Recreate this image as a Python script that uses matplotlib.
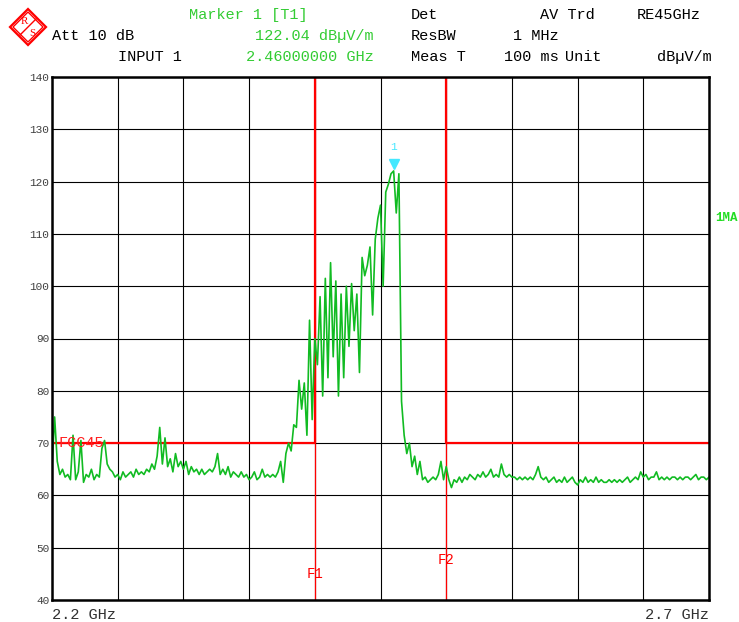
import matplotlib
matplotlib.use("Agg")
import matplotlib.pyplot as plt
import numpy as np
from matplotlib.patches import Polygon
from matplotlib.lines import Line2D

# sweep 2.2 .. 2.7 GHz, 2 MHz per point, level in dBuV/m
level_dbuv = [
    65.5, 75, 66.5, 64, 65, 63.5, 64, 63, 71.5, 63,
    64.5, 70.5, 62.5, 64, 63.5, 65, 63, 64, 63.5, 69,
    70.5, 66, 65, 64.5, 63.5, 64, 63, 64.5, 63.5, 64,
    64.5, 63.5, 65, 64, 64.5, 64, 65, 64.5, 66, 65,
    67.5, 73, 66, 71, 65.5, 67, 64.5, 68, 65.5, 66.5,
    65, 66.5, 64, 65.5, 64.5, 65, 64, 65, 64, 64.5,
    65, 64.5, 65.5, 68, 64, 65, 64, 65.5, 63.5, 64.5,
    64, 63.5, 64.5, 63.5, 64, 63, 63.5, 64.5, 63, 63.5,
    65, 63.5, 64, 63.5, 64, 63.5, 64.5, 66.5, 62.5, 68,
    70, 68.5, 73.5, 73, 82, 76.5, 81.5, 71.5, 93.5, 74.5,
    90, 85, 98, 79, 101.5, 82.5, 104.5, 86.5, 101, 79,
    98.5, 82.5, 100, 88.5, 100.5, 91.5, 98.5, 83.5, 105.5, 102,
    104, 107.5, 94.5, 109, 113, 115.5, 100, 118, 119.5, 121.5,
    122.04, 114, 121.5, 78, 71.5, 68, 70, 65.5, 67.5, 64,
    66.5, 63, 63.5, 62.5, 63, 63.5, 63, 64, 66.5, 63,
    65.5, 63, 61.5, 63, 62.5, 63.5, 62.5, 63.5, 63, 64,
    63.5, 63, 64, 63.5, 64.5, 63.5, 64, 65, 63.5, 64,
    63.5, 66, 64, 63.5, 64, 63.5, 63.5, 63, 63.5, 63,
    63.5, 63, 63.5, 63, 64, 65.5, 63.5, 63, 63.5, 62.5,
    63, 63.5, 62.5, 63, 62.5, 63.5, 62.5, 63, 63.5, 62.5,
    62, 63, 62.5, 63.5, 62.5, 63, 62.5, 63.5, 62.5, 63,
    62.5, 62.5, 63, 62.5, 63, 62.5, 63, 62.5, 63, 63.5,
    62.5, 63, 63.5, 63, 64.5, 63.5, 64, 63, 63.5, 63.5,
    64.5, 63, 63.5, 63, 63.5, 63, 63.5, 63.5, 63, 63.5,
    63, 63.5, 63.5, 63, 63.5, 64, 63, 63.5, 63.5, 63,
    63.5,
]
f_start, f_stop = 2.2, 2.7
freq_ghz = np.linspace(f_start, f_stop, len(level_dbuv))

# FCC limit line and band edges
limit_f = [2.2, 2.4, 2.4, 2.5, 2.5, 2.7]
limit_db = [70, 70, 140, 140, 70, 70]
f1_ghz, f2_ghz = 2.4, 2.5
marker_f, marker_db = 2.46, 122.04

W, H = 739, 622
MONO = "Liberation Mono"
GREEN_TXT = "#33cc33"
RED = "#ff0000"


def fx(px):
    return px / W


def fy(py):
    return 1 - py / H


fig = plt.figure(figsize=(W / 100, H / 100), dpi=100)
ax = fig.add_axes([fx(52), 22 / H, 657 / W, 523 / H])

ax.set_xlim(f_start, f_stop)
ax.set_ylim(40, 140)
ax.set_xticks(np.linspace(f_start, f_stop, 11))
ax.set_yticks(range(40, 141, 10))
ax.set_yticklabels([str(v) for v in range(40, 141, 10)], family=MONO, fontsize=8, color="#404040")
ax.tick_params(length=0, labelbottom=False, pad=2)
ax.grid(color="black", lw=0.8)
for s in ax.spines.values():
    s.set_linewidth(1.8)
    s.set_zorder(5)

ax.plot(limit_f, limit_db, color=RED, lw=1.6, zorder=3)
ax.vlines([f1_ghz, f2_ghz], 40, 140, color=RED, lw=0.9, zorder=3)
ax.plot(freq_ghz, level_dbuv, color="#11bb22", lw=1.2, zorder=4)

ax.plot(marker_f, 123.4, marker="v", color="#44e8ff", markersize=7, zorder=6)
ax.text(marker_f, 125.6, "1", color="#44e8ff", fontsize=8, family=MONO, ha="center", va="bottom")

ax.text(2.205, 70, "FCC45", color="#ff2020", fontsize=11, family=MONO, va="center", zorder=6)
ax.text(f1_ghz, 45, "F1", color=RED, fontsize=10, family=MONO, ha="center", va="center")
ax.text(f2_ghz, 47.6, "F2", color=RED, fontsize=10, family=MONO, ha="center", va="center")

# header
hdr = [
    (189, 15, "Marker 1 [T1]", GREEN_TXT, "left"),
    (411, 15, "Det", "black", "left"),
    (540, 15, "AV Trd", "black", "left"),
    (637, 15, "RE45GHz", "black", "left"),
    (52, 36, "Att 10 dB", "black", "left"),
    (374, 36, "122.04 dB\u00b5V/m", GREEN_TXT, "right"),
    (411, 36, "ResBW", "black", "left"),
    (513, 36, "1 MHz", "black", "left"),
    (118, 57, "INPUT 1", "black", "left"),
    (374, 57, "2.46000000 GHz", GREEN_TXT, "right"),
    (411, 57, "Meas T", "black", "left"),
    (504, 57, "100 ms", "black", "left"),
    (565, 57, "Unit", "black", "left"),
    (712, 57, "dB\u00b5V/m", "black", "right"),
]
for px, py, s, c, ha in hdr:
    fig.text(fx(px), fy(py), s, color=c, ha=ha, va="center", family=MONO, fontsize=11)

fig.text(fx(52), fy(615), "2.2 GHz", ha="left", va="center", family=MONO, fontsize=11, color="#303030")
fig.text(fx(709), fy(615), "2.7 GHz", ha="right", va="center", family=MONO, fontsize=11, color="#303030")
fig.text(fx(715), fy(218), "1MA", ha="left", va="center", family=MONO, fontsize=9,
         color="#22dd22", fontweight="bold")

# R&S logo
cx, cy, r = 28, 27, 18
for rr, lw in [(r, 1.6), (r - 3, 1.0)]:
    pts = [(fx(cx), fy(cy - rr)), (fx(cx + rr), fy(cy)), (fx(cx), fy(cy + rr)), (fx(cx - rr), fy(cy))]
    fig.patches.append(Polygon(pts, closed=True, fill=False, ec=RED, lw=lw, transform=fig.transFigure))
fig.lines.append(Line2D([fx(20), fx(36)], [fy(35), fy(19)], color=RED, lw=1.0, transform=fig.transFigure))
fig.text(fx(24), fy(21), "R", color=RED, fontsize=8, family="Liberation Serif", ha="center", va="center")
fig.text(fx(32), fy(33), "S", color=RED, fontsize=8, family="Liberation Serif", ha="center", va="center")

fig.savefig("out.png", dpi=100)
